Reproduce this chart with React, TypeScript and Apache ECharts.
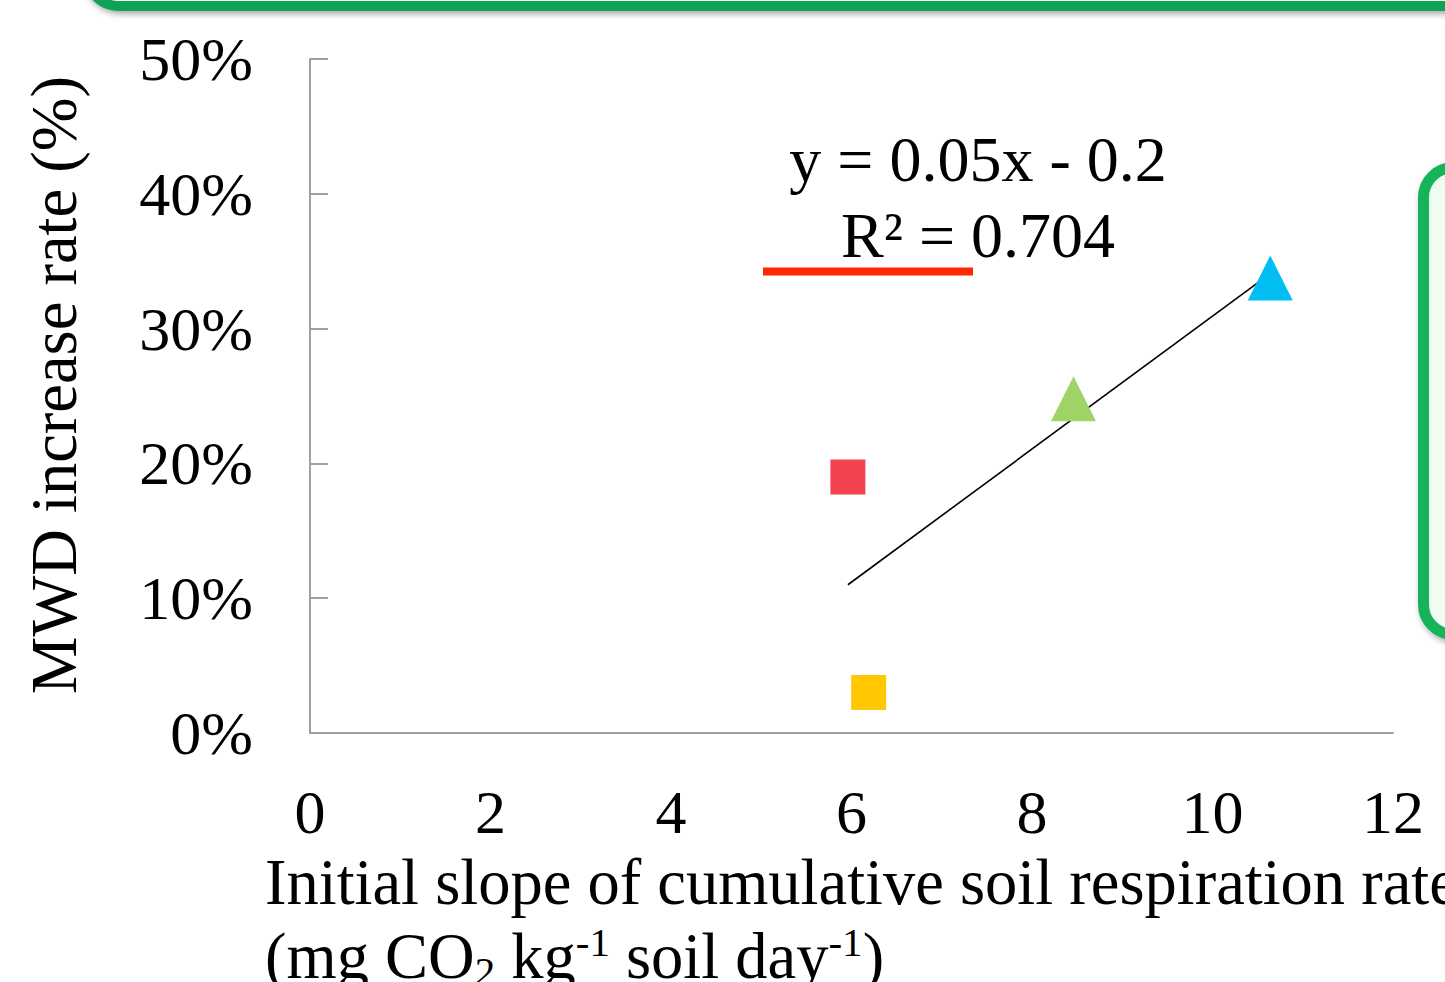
import React, { useEffect, useRef } from "react";
import * as echarts from "echarts";

// Data
const xTicks = [0, 2, 4, 6, 8, 10, 12];
const yTicks = [0, 0.1, 0.2, 0.3, 0.4, 0.5];
const pointX = [5.96, 6.19, 8.46, 10.64];
const pointY = [0.19, 0.03, 0.248, 0.3375];
const pointNames = ["A", "B", "C", "D"];
const equationText = "y = 0.05x - 0.2";
const r2Text = "R² = 0.704";
const yTitle = "MWD increase rate (%)";
const xTitle1 = "Initial slope of cumulative soil respiration rate";

// styles
const pointColors = ["#F2434F", "#FFC800", "#A0D468", "#00BEF2"];
const pointSymbols = ["rect", "rect", "triangle", "triangle"];
const pointSizes: any[] = [35, 35, [45, 45], [45, 45]];

function regression(xs: number[], ys: number[]) {
  const n = xs.length;
  const mx = xs.reduce((a, b) => a + b, 0) / n;
  const my = ys.reduce((a, b) => a + b, 0) / n;
  let sxy = 0, sxx = 0;
  for (let i = 0; i < n; i++) {
    sxy += (xs[i] - mx) * (ys[i] - my);
    sxx += (xs[i] - mx) * (xs[i] - mx);
  }
  const slope = sxy / sxx;
  return { slope, intercept: my - slope * mx };
}

const FONT = "'Liberation Serif', 'Times New Roman', serif";

export default function App() {
  const ref = useRef<HTMLDivElement>(null);
  useEffect(() => {
    document.body.style.margin = "0";
    if (!ref.current) return;
    const chart = echarts.init(ref.current, null, { renderer: "svg" });
    const { slope, intercept } = regression(pointX, pointY);
    const xmin = Math.min(...pointX);
    const xmax = Math.max(...pointX);
    const trend = [
      [xmin, slope * xmin + intercept],
      [xmax, slope * xmax + intercept],
    ];
    const shadow = {
      shadowBlur: 6,
      shadowOffsetX: 2,
      shadowOffsetY: 3,
      shadowColor: "rgba(0,0,0,0.35)",
    };
    chart.setOption({
      animation: false,
      backgroundColor: "#ffffff",
      grid: { left: 310, top: 59, right: 52, bottom: 249, containLabel: false },
      xAxis: {
        type: "value",
        min: xTicks[0],
        max: xTicks[xTicks.length - 1],
        interval: 2,
        axisLine: { show: true, onZero: false, lineStyle: { color: "#A0A0A0", width: 2 } },
        axisTick: { show: false },
        splitLine: { show: false },
        axisLabel: {
          margin: 48,
          color: "#000",
          fontFamily: FONT,
          fontSize: 62,
        },
      },
      yAxis: {
        type: "value",
        min: yTicks[0],
        max: yTicks[yTicks.length - 1],
        interval: 0.1,
        axisLine: { show: true, lineStyle: { color: "#A0A0A0", width: 2 } },
        axisTick: { show: true, inside: true, length: 18, lineStyle: { color: "#A0A0A0", width: 2 } },
        splitLine: { show: false },
        axisLabel: {
          margin: 57,
          color: "#000",
          fontFamily: FONT,
          fontSize: 62,
          padding: [17, 0, 0, 0],
          formatter: (v: number) => Math.round(v * 100) + "%",
        },
      },
      series: [
        {
          type: "line",
          data: trend,
          symbol: "none",
          lineStyle: { color: "#000", width: 1.6 },
          z: 1,
        },
        {
          type: "scatter",
          z: 3,
          data: pointX.map((x, i) => ({
            name: pointNames[i],
            value: [x, pointY[i]],
            symbol: pointSymbols[i],
            symbolSize: pointSizes[i],
            itemStyle: { color: pointColors[i], opacity: 1 },
          })),
        },
      ],
      graphic: [
        {
          type: "rect",
          z: 0,
          shape: { x: 88, y: -200, width: 1500, height: 206, r: 30 },
          style: { fill: "#ffffff", stroke: "#07A257", lineWidth: 10, ...shadow },
        },
        {
          type: "rect",
          z: 0,
          shape: { x: 1423.5, y: 167.5, width: 200, height: 467, r: 30 },
          style: { fill: "#EEFCF1", stroke: "#12B35A", lineWidth: 11, ...shadow },
        },
        {
          type: "line",
          shape: { x1: 763, y1: 271.5, x2: 973, y2: 271.5 },
          style: { stroke: "#FF2800", lineWidth: 8 },
        },
        {
          type: "text",
          x: 978,
          y: 159,
          style: {
            text: equationText,
            fontFamily: FONT,
            fontSize: 64,
            fill: "#000",
            align: "center",
            verticalAlign: "middle",
          },
        },
        {
          type: "text",
          x: 978,
          y: 235,
          style: {
            text: r2Text,
            fontFamily: FONT,
            fontSize: 64,
            fill: "#000",
            align: "center",
            verticalAlign: "middle",
          },
        },
        {
          type: "text",
          x: 54,
          y: 385,
          rotation: Math.PI / 2,
          style: {
            text: yTitle,
            fontFamily: FONT,
            fontSize: 64.5,
            fill: "#000",
            align: "center",
            verticalAlign: "middle",
          },
        },
        {
          type: "text",
          x: 265,
          y: 882,
          style: {
            text: xTitle1,
            fontFamily: FONT,
            fontSize: 64.5,
            fill: "#000",
            align: "left",
            verticalAlign: "middle",
          },
        },
        {
          type: "text",
          x: 265,
          y: 921,
          style: {
            text: "{n|(mg CO}{sub|2}{n| kg}{sup|-1}{n| soil day}{sup|-1}{n|)}",
            align: "left",
            verticalAlign: "top",
            rich: {
              n: { fontFamily: FONT, fontSize: 64.5, lineHeight: 70, color: "#000", verticalAlign: "middle" },
              sup: { fontFamily: FONT, fontSize: 41, lineHeight: 58, color: "#000", verticalAlign: "top" },
              sub: { fontFamily: FONT, fontSize: 41, lineHeight: 44, color: "#000", verticalAlign: "bottom" },
            },
          },
        },
      ],
    });
    return () => chart.dispose();
  }, []);
  return <div ref={ref} style={{ width: 1445, height: 982 }} />;
}
